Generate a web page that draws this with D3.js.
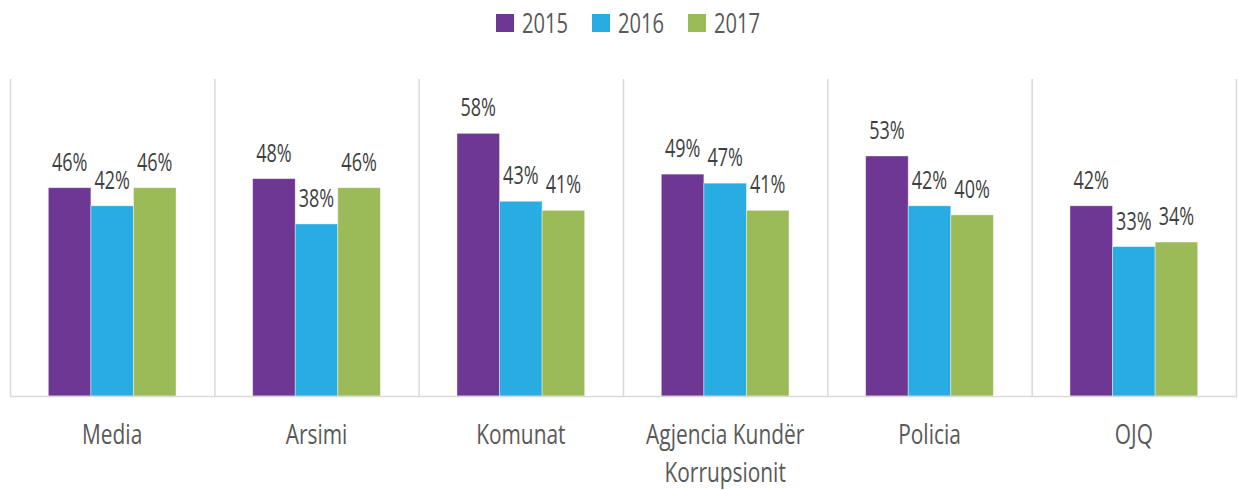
<!DOCTYPE html>
<html>
<head>
<meta charset="utf-8">
<script src="https://cdn.jsdelivr.net/npm/d3@7"></script>
<style>
  body { margin: 0; background: #fff; }
  svg { display: block; font-family: "Open Sans", "Noto Sans", sans-serif; }
</style>
</head>
<body>
<svg id="chart" width="1238" height="490"></svg>
<script>
const categories = ['Media', 'Arsimi', 'Komunat', 'Agjencia Kundër Korrupsionit', 'Policia', 'OJQ']
const years = ['2015', '2016', '2017']
const values2015 = [46, 48, 58, 49, 53, 42]
const values2016 = [42, 38, 43, 47, 42, 33]
const values2017 = [46, 46, 41, 41, 40, 34]
// category label lines (Excel wraps the long one)
const categoryLines = [['Media'], ['Arsimi'], ['Komunat'], ['Agjencia Kundër', 'Korrupsionit'], ['Policia'], ['OJQ']]

const COLORS = ['#6e3794', '#29ace2', '#9bbb59']
const series = [values2015, values2016, values2017]
// the original font is a condensed one, squeeze the glyphs horizontally
const SQUEEZE = 0.72

const width = 1238
const margin = { top: 79, right: 2, bottom: 94, left: 10 }
const plotBottom = 396

const svg = d3.select('#chart')

const x = d3.scaleBand()
  .domain(categories)
  .range([margin.left, width - margin.right])
  .padding(0)

const xInner = d3.scaleBand()
  .domain(years)
  .range([0, x.bandwidth()])
  .paddingInner(0)
  .paddingOuter(0.9)

const y = d3.scaleLinear()
  .domain([0, 70])
  .range([plotBottom, margin.top])

const squeezed = (px, py, s = SQUEEZE) => `translate(${px},${py}) scale(${s},1)`

// vertical separators between categories
const seps = categories.map(c => x(c)).concat([x.range()[1]])
svg.append('g')
  .selectAll('line')
  .data(seps)
  .join('line')
  .attr('x1', d => d + 0.5)
  .attr('x2', d => d + 0.5)
  .attr('y1', y(70))
  .attr('y2', plotBottom)
  .attr('stroke', '#d9d9d9')
  .attr('stroke-width', 1.5)

// bars
const rows = []
categories.forEach((c, i) => {
  years.forEach((yr, j) => rows.push({ cat: c, year: yr, s: j, v: series[j][i] }))
})

svg.append('g')
  .selectAll('rect')
  .data(rows)
  .join('rect')
  .attr('x', d => x(d.cat) + xInner(d.year))
  .attr('y', d => y(d.v))
  .attr('width', xInner.bandwidth())
  .attr('height', d => plotBottom - y(d.v))
  .attr('fill', d => COLORS[d.s])
  .attr('stroke', '#ffffff')
  .attr('stroke-opacity', 0.5)
  .attr('stroke-width', 0.8)

// value labels
svg.append('g')
  .selectAll('text')
  .data(rows)
  .join('text')
  .attr('transform', d => squeezed(x(d.cat) + xInner(d.year) + xInner.bandwidth() / 2, y(d.v) - 17))
  .attr('text-anchor', 'middle')
  .attr('font-size', 25)
  .attr('fill', '#404040')
  .text(d => d.v + '%')

// baseline
svg.append('line')
  .attr('x1', x.range()[0])
  .attr('x2', x.range()[1] + 1)
  .attr('y1', plotBottom + 0.5)
  .attr('y2', plotBottom + 0.5)
  .attr('stroke', '#d9d9d9')
  .attr('stroke-width', 1.5)

// category labels, one text per line
const catRows = []
categories.forEach((c, i) => {
  categoryLines[i].forEach((t, k) => catRows.push({ cat: c, text: t, line: k }))
})
svg.append('g')
  .selectAll('text')
  .data(catRows)
  .join('text')
  .attr('transform', d => squeezed(x(d.cat) + x.bandwidth() / 2, 444 + d.line * 37.5, 0.76))
  .attr('text-anchor', 'middle')
  .attr('font-size', 27.5)
  .attr('fill', '#595959')
  .text(d => d.text)

// legend
const legendX = [496, 592, 688]
const legend = svg.append('g')
  .selectAll('g')
  .data(years)
  .join('g')
  .attr('transform', (d, i) => `translate(${legendX[i]},14)`)

legend.append('rect')
  .attr('width', 18)
  .attr('height', 18)
  .attr('fill', (d, i) => COLORS[i])

legend.append('text')
  .attr('transform', squeezed(26, 19))
  .attr('font-size', 28)
  .attr('fill', '#595959')
  .text(d => d)
</script>
</body>
</html>
